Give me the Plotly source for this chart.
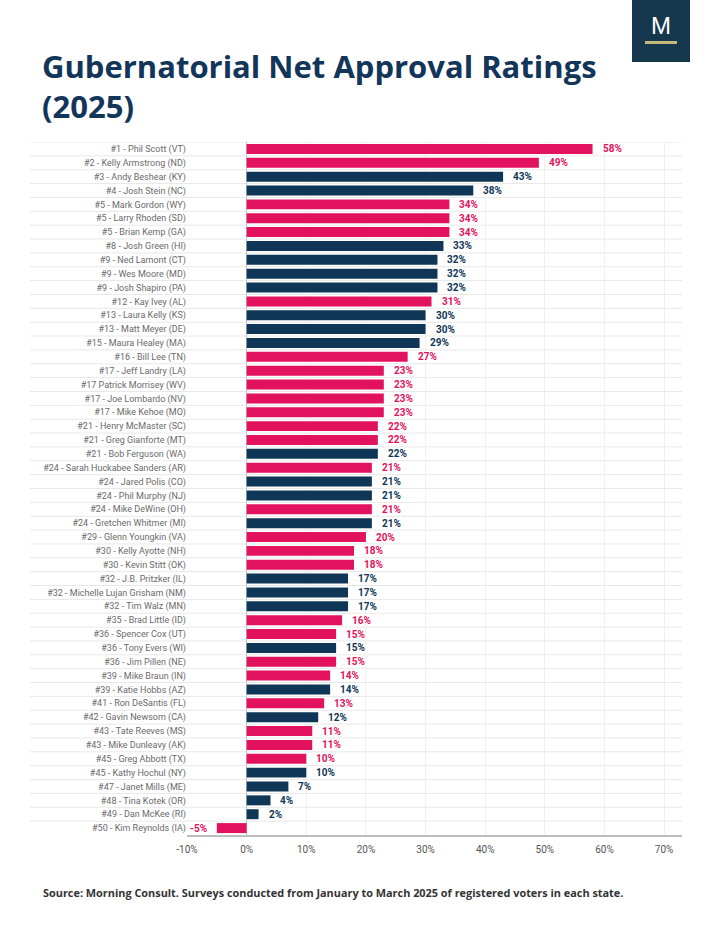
import plotly.graph_objects as go

ranks = ["#1", "#2", "#3", "#4", "#5", "#5", "#5", "#8", "#9", "#9", "#9", "#12", "#13", "#13", "#15",
         "#16", "#17", "#17", "#17", "#17", "#21", "#21", "#21", "#24", "#24", "#24", "#24", "#24", "#29",
         "#30", "#30", "#32", "#32", "#32", "#35", "#36", "#36", "#36", "#39", "#39", "#41", "#42", "#43",
         "#43", "#45", "#45", "#47", "#48", "#49", "#50"]
governors = ["Phil Scott (VT)", "Kelly Armstrong (ND)", "Andy Beshear (KY)", "Josh Stein (NC)",
             "Mark Gordon (WY)", "Larry Rhoden (SD)", "Brian Kemp (GA)", "Josh Green (HI)",
             "Ned Lamont (CT)", "Wes Moore (MD)", "Josh Shapiro (PA)", "Kay Ivey (AL)",
             "Laura Kelly (KS)", "Matt Meyer (DE)", "Maura Healey (MA)", "Bill Lee (TN)",
             "Jeff Landry (LA)", "Patrick Morrisey (WV)", "Joe Lombardo (NV)", "Mike Kehoe (MO)",
             "Henry McMaster (SC)", "Greg Gianforte (MT)", "Bob Ferguson (WA)",
             "Sarah Huckabee Sanders (AR)", "Jared Polis (CO)", "Phil Murphy (NJ)", "Mike DeWine (OH)",
             "Gretchen Whitmer (MI)", "Glenn Youngkin (VA)", "Kelly Ayotte (NH)", "Kevin Stitt (OK)",
             "J.B. Pritzker (IL)", "Michelle Lujan Grisham (NM)", "Tim Walz (MN)", "Brad Little (ID)",
             "Spencer Cox (UT)", "Tony Evers (WI)", "Jim Pillen (NE)", "Mike Braun (IN)",
             "Katie Hobbs (AZ)", "Ron DeSantis (FL)", "Gavin Newsom (CA)", "Tate Reeves (MS)",
             "Mike Dunleavy (AK)", "Greg Abbott (TX)", "Kathy Hochul (NY)", "Janet Mills (ME)",
             "Tina Kotek (OR)", "Dan McKee (RI)", "Kim Reynolds (IA)"]
net_approval = [58, 49, 43, 38, 34, 34, 34, 33, 32, 32, 32, 31, 30, 30, 29, 27, 23, 23, 23, 23, 22, 22,
                22, 21, 21, 21, 21, 21, 20, 18, 18, 17, 17, 17, 16, 15, 15, 15, 14, 14, 13, 12, 11, 11,
                10, 10, 7, 4, 2, -5]
party = ["R", "R", "D", "D", "R", "R", "R", "D", "D", "D", "D", "R", "D", "D", "D", "R", "R", "R", "R",
         "R", "R", "R", "D", "R", "D", "D", "R", "D", "R", "R", "R", "D", "D", "D", "R", "R", "D", "R",
         "R", "D", "R", "D", "R", "R", "R", "D", "D", "D", "D", "R"]
x_ticks = [-10, 0, 10, 20, 30, 40, 50, 60, 70]

PINK = "#E3125E"
NAVY = "#0F3657"
colors = [PINK if p == "R" else NAVY for p in party]

labels = []
for r, g in zip(ranks, governors):
    if g.startswith("Patrick Morrisey"):
        labels.append(f"{r} {g}")
    else:
        labels.append(f"{r} - {g}")

pos = list(range(len(governors)))

# plot geometry (pixels)
L, R, T, B = 187, 38, 142, 96
PW, PH = 720 - L - R, 931 - T - B


def px(x):
    return (x - L) / PW


def py(y):
    return (931 - B - y) / PH


fig = go.Figure()
fig.add_trace(go.Bar(
    x=net_approval, y=pos, orientation="h",
    marker=dict(color=colors, line=dict(width=0)),
    width=0.72, hoverinfo="skip",
))

for i, (v, c) in enumerate(zip(net_approval, colors)):
    fig.add_annotation(
        x=v, y=i, xref="x", yref="y", text=f"<b>{v}%</b>", showarrow=False,
        xanchor="left" if v >= 0 else "right", yanchor="middle",
        xshift=8 if v >= 0 else -8,
        font=dict(family="Roboto", size=10, color=c),
    )

# row separator lines
shapes = []
for b in range(len(pos)):
    yb = b - 0.5
    shapes.append(dict(type="line", xref="paper", yref="y", x0=px(30), x1=1.0, y0=yb, y1=yb,
                       line=dict(color="#E8E8E8", width=1), layer="below"))

fig.update_layout(
    width=720, height=931,
    margin=dict(l=L, r=R, t=T, b=B),
    paper_bgcolor="white", plot_bgcolor="white",
    showlegend=False,
    shapes=shapes,
    xaxis=dict(range=[-10, 73], tickvals=x_ticks, ticktext=[f"{t}%" for t in x_ticks],
               showgrid=True, gridcolor="#F0F0F0", gridwidth=1,
               zeroline=True, zerolinecolor="#C4C4C4", zerolinewidth=1,
               showline=True, linecolor="#BDBDBD", linewidth=2,
               ticks="", ticklabelstandoff=4,
               tickfont=dict(family="Roboto", size=10, color="#555555"),
               fixedrange=True),
    yaxis=dict(range=[49.5, -0.5], tickvals=pos, ticktext=labels,
               showgrid=False, zeroline=False, showline=False, ticks="",
               tickfont=dict(family="Roboto", size=9, color="#6A6A6A"),
               fixedrange=True),
    bargap=0.28,
)

# title
fig.add_annotation(xref="paper", yref="paper", x=px(40), y=py(86), xanchor="left", yanchor="middle",
                   align="left", text="<b>Gubernatorial Net Approval Ratings<br>(2025)</b>",
                   showarrow=False, font=dict(family="Open Sans", size=31, color="#12355A"))

# source
fig.add_annotation(xref="paper", yref="paper", x=px(41), y=py(892), xanchor="left", yanchor="middle",
                   text="<b>Source: Morning Consult. Surveys conducted from January to March 2025 of registered voters in each state.</b>",
                   showarrow=False, font=dict(family="Open Sans", size=10.9, color="#333333"))

# logo
fig.add_shape(type="rect", xref="paper", yref="paper",
              x0=px(632), x1=px(690), y0=py(62), y1=py(-5),
              fillcolor="#16384F", line=dict(width=0), layer="above")
fig.add_shape(type="rect", xref="paper", yref="paper",
              x0=px(645), x1=px(677), y0=py(44), y1=py(41),
              fillcolor="#C8B878", line=dict(width=0), layer="above")
fig.add_annotation(xref="paper", yref="paper", x=px(661), y=py(26), xanchor="center", yanchor="middle",
                   text="M", showarrow=False,
                   font=dict(family="Liberation Sans", size=24, color="white"))

fig.write_html("out.html")
